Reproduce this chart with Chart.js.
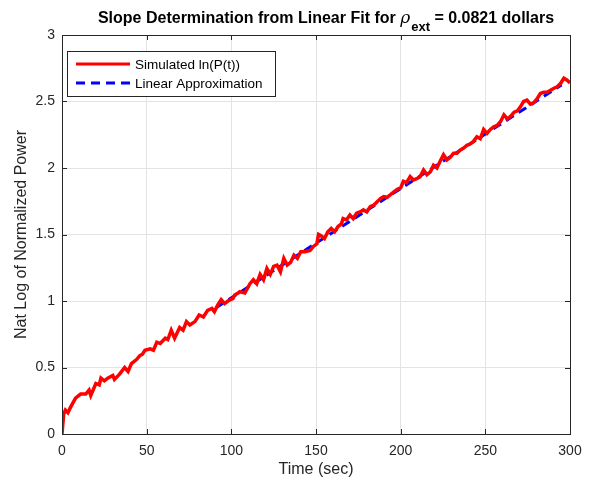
<!DOCTYPE html>
<html>
<head>
<meta charset="utf-8">
<script src="https://cdn.jsdelivr.net/npm/chart.js@4.4.1/dist/chart.umd.min.js"></script>
<style>
  html, body { margin: 0; padding: 0; background: #fff; }
  #wrap { width: 592px; height: 483px; position: relative; }
</style>
</head>
<body>
<div id="wrap"><canvas id="myChart" width="592" height="483"></canvas></div>
<script>
// values
var simTime = [0, 1, 2, 3.5, 5, 8, 11, 14, 16, 17, 20, 22, 23, 25, 27, 30, 31, 34, 37, 39,
    41, 44, 46, 47.5, 49, 52, 54, 56, 58, 61, 62.5, 64.5, 66.5, 69.5, 71.5, 73.5, 75.5, 78.5, 81, 83.5,
    86, 88.5, 90, 92, 94, 96, 98, 101, 102, 104, 105, 108, 111, 113, 115, 117, 119, 121, 123, 125,
    127, 129, 131, 133, 135, 137, 139, 141, 143.5, 146.5, 148.5, 150.5, 151.5, 153, 155, 157, 159, 161, 163, 165,
    166, 168, 170, 172, 174, 176, 178, 180, 182, 184, 186, 188, 190, 192, 194, 196, 198, 200, 201.6, 203.5,
    205.6, 207.6, 209.5, 211.5, 213.5, 215.5, 217.5, 219.4, 221.4, 223.3, 225.3, 227.3, 229.3, 231.2, 233.2, 235.2, 237.2, 239.1,
    241, 243, 245, 247, 249, 251, 253, 255, 257, 259, 261, 263, 265, 267, 269, 270.7, 272.6, 274.6, 276.6, 278.5,
    280.5, 282.5, 284.5, 286.5, 288.5, 290.5, 292.4, 294.4, 296.4, 298.3, 300];
var simLnP = [0, 0.15, 0.18, 0.16, 0.2, 0.27, 0.30, 0.30, 0.33, 0.29, 0.38, 0.37, 0.42, 0.40, 0.42, 0.44, 0.41, 0.45, 0.50, 0.47,
    0.53, 0.56, 0.59, 0.60, 0.63, 0.64, 0.63, 0.69, 0.68, 0.72, 0.71, 0.78, 0.72, 0.80, 0.78, 0.845, 0.82, 0.845, 0.895, 0.88,
    0.93, 0.945, 0.92, 0.97, 1.01, 0.98, 1.0, 1.02, 1.045, 1.06, 1.07, 1.06, 1.13, 1.16, 1.13, 1.2, 1.16, 1.245, 1.2, 1.26,
    1.27, 1.22, 1.32, 1.27, 1.29, 1.345, 1.32, 1.37, 1.37, 1.38, 1.41, 1.43, 1.5, 1.49, 1.47, 1.52, 1.545, 1.52, 1.56, 1.58,
    1.62, 1.61, 1.647, 1.62, 1.66, 1.67, 1.685, 1.67, 1.71, 1.72, 1.745, 1.77, 1.785, 1.78, 1.8, 1.82, 1.84, 1.85, 1.9, 1.89,
    1.935, 1.91, 1.92, 1.935, 1.985, 1.95, 1.97, 2.02, 2.0, 2.05, 2.1, 2.06, 2.08, 2.11, 2.11, 2.135, 2.15, 2.17,
    2.18, 2.2, 2.235, 2.22, 2.29, 2.26, 2.29, 2.31, 2.32, 2.35, 2.4, 2.37, 2.39, 2.42, 2.43, 2.46, 2.5, 2.51, 2.48, 2.49,
    2.52, 2.56, 2.57, 2.57, 2.585, 2.6, 2.61, 2.635, 2.675, 2.66, 2.64];
var fitTime = [91, 295];
var fitLnP = [0.95, 2.625];
var xTicks = [0, 50, 100, 150, 200, 250, 300];
var yTicks = [0, 0.5, 1, 1.5, 2, 2.5, 3];

var FONT = '"Liberation Sans", Arial, sans-serif';
var AXIS_COLOR = '#262626';

function toPoints(xs, ys) {
    return xs.map(function (x, i) { return { x: x, y: ys[i] }; });
}

// MATLAB style: box around the axes, inward tick marks, title with subscript, legend inside
var matlabLook = {
    id: 'matlabLook',
    afterDraw: function (chart) {
        var c = chart.ctx;
        var a = chart.chartArea;
        var xs = chart.scales.x, ys = chart.scales.y;
        c.save();
        c.strokeStyle = AXIS_COLOR;
        c.lineWidth = 1;
        c.strokeRect(a.left + 0.5, a.top + 0.5, a.right - a.left, a.bottom - a.top);
        c.beginPath();
        xTicks.forEach(function (v) {
            var px = Math.round(xs.getPixelForValue(v)) + 0.5;
            c.moveTo(px, a.bottom); c.lineTo(px, a.bottom - 5);
            c.moveTo(px, a.top); c.lineTo(px, a.top + 5);
        });
        yTicks.forEach(function (v) {
            var py = Math.round(ys.getPixelForValue(v)) + 0.5;
            c.moveTo(a.left, py); c.lineTo(a.left + 5, py);
            c.moveTo(a.right, py); c.lineTo(a.right - 5, py);
        });
        c.stroke();

        // title
        var p1 = 'Slope Determination from Linear Fit for ';
        var p2 = '\u03C1';
        var p3 = 'ext';
        var p4 = ' = 0.0821 dollars';
        var big = 'bold 16px ' + FONT;
        var rho = 'italic 17px "DejaVu Serif", serif';
        var sub = 'bold 13px ' + FONT;
        c.font = big; var w1 = c.measureText(p1).width, w4 = c.measureText(p4).width;
        c.font = rho; var w2 = c.measureText(p2).width + 1;
        c.font = sub; var w3 = c.measureText(p3).width;
        var total = w1 + w2 + w3 + w4;
        var x0 = (a.left + a.right) / 2 + 10 - total / 2;
        var base = 23;
        c.fillStyle = '#000';
        c.textBaseline = 'alphabetic';
        c.textAlign = 'left';
        c.font = big; c.fillText(p1, x0, base);
        c.font = rho; c.fillText(p2, x0 + w1, base);
        c.font = sub; c.fillText(p3, x0 + w1 + w2, base + 8);
        c.font = big; c.fillText(p4, x0 + w1 + w2 + w3, base);

        // legend
        var lx = 67, ly = 51, lw = 208, lh = 45;
        c.fillStyle = '#fff';
        c.fillRect(lx, ly, lw, lh);
        c.strokeStyle = AXIS_COLOR;
        c.strokeRect(lx + 0.5, ly + 0.5, lw, lh);
        c.font = '13.5px ' + FONT;
        c.textBaseline = 'middle';
        chart.data.datasets.forEach(function (ds, i) {
            var yy = ly + 13 + i * 19;
            c.beginPath();
            c.strokeStyle = ds.borderColor;
            c.lineWidth = 3;
            c.setLineDash(ds.borderDash || []);
            c.moveTo(lx + 9, yy); c.lineTo(lx + 63, yy);
            c.stroke();
            c.setLineDash([]);
            c.fillStyle = '#000';
            c.fillText(ds.label, lx + 68, yy + 1);
        });
        c.restore();
    }
};

var ctx = document.getElementById('myChart').getContext('2d');
var myChart = new Chart(ctx, {
    type: 'line',
    data: {
        datasets: [
            {
                label: 'Simulated ln(P(t))',
                data: toPoints(simTime, simLnP),
                borderColor: '#ff0000',
                borderWidth: 3.5,
                pointRadius: 0,
                tension: 0
            },
            {
                label: 'Linear Approximation',
                data: toPoints(fitTime, fitLnP),
                borderColor: '#0000ff',
                borderWidth: 3,
                borderDash: [9, 6],
                pointRadius: 0,
                tension: 0
            }
        ]
    },
    options: {
        responsive: false,
        animation: false,
        layout: { padding: { top: 35, right: 22, bottom: 0, left: 0 } },
        plugins: {
            legend: { display: false },
            tooltip: { enabled: false },
            title: { display: false }
        },
        scales: {
            x: {
                type: 'linear',
                min: 0,
                max: 300,
                afterBuildTicks: function (s) { s.ticks = xTicks.map(function (v) { return { value: v }; }); },
                afterFit: function (s) { s.height = 49; },
                grid: { color: '#e3e3e3', drawTicks: false },
                border: { display: false },
                ticks: { color: AXIS_COLOR, font: { family: FONT, size: 14 }, padding: 9, maxRotation: 0 },
                title: { display: true, text: 'Time (sec)', color: AXIS_COLOR, font: { family: FONT, size: 16 }, padding: { top: 0 } }
            },
            y: {
                type: 'linear',
                min: 0,
                max: 3,
                afterBuildTicks: function (s) { s.ticks = yTicks.map(function (v) { return { value: v }; }); },
                afterFit: function (s) { s.width = 62; },
                grid: { color: '#e3e3e3', drawTicks: false },
                border: { display: false },
                ticks: {
                    color: AXIS_COLOR, font: { family: FONT, size: 14 }, padding: 7,
                    callback: function (v) { return String(v); }
                },
                title: { display: true, text: 'Nat Log of Normalized Power', color: AXIS_COLOR, font: { family: FONT, size: 16 }, padding: { top: 12, bottom: 0 } }
            }
        }
    },
    plugins: [matlabLook]
});
</script>
</body>
</html>
